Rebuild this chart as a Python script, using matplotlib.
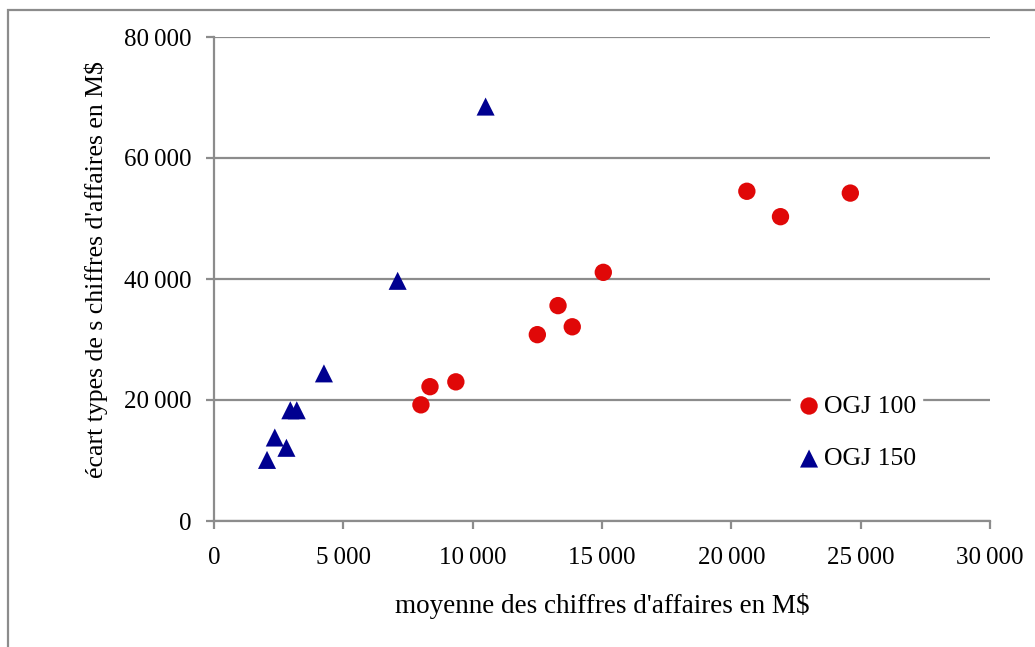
import matplotlib.pyplot as plt
from matplotlib.patches import Rectangle
from matplotlib.ticker import FuncFormatter, MultipleLocator

plt.rcParams["font.family"] = ["Liberation Serif", "DejaVu Serif"]

GRAY = "#8c8c8c"
RED = "#e00808"
NAVY = "#000090"

# OGJ 100
ogj100_x = [8000, 8350, 9350, 12500, 13300, 13850, 15050, 20600, 21900, 24600]
ogj100_y = [19200, 22200, 23000, 30800, 35600, 32100, 41100, 54500, 50300, 54200]

# OGJ 150
ogj150_x = [2050, 2350, 2800, 2950, 3200, 4250, 7100, 10500]
ogj150_y = [10100, 13800, 12100, 18300, 18300, 24400, 39700, 68500]


def thousands(v, pos):
    # narrow space as thousands separator, like the original
    return f"{int(round(v)):,}".replace(",", "\u2009")


fig = plt.figure(figsize=(10.35, 6.47), dpi=100, facecolor="white")

# outer chart frame, cut off on the right and bottom
fig.patches.append(Rectangle((8 / 1035, -0.05), 1.2, 1 - 10 / 647 + 0.05,
                             transform=fig.transFigure, fill=False,
                             edgecolor=GRAY, lw=1.6, zorder=0))

ax = fig.add_axes([214 / 1035, 1 - 521 / 647, 776 / 1035, 484 / 647])
ax.scatter(ogj100_x, ogj100_y, marker="o", s=12.5 ** 2, color=RED,
           edgecolors="none", label="OGJ 100", zorder=3)
ax.scatter(ogj150_x, ogj150_y, marker="^", s=13 ** 2, color=NAVY,
           edgecolors="none", label="OGJ 150", zorder=3)

ax.set_xlim(0, 30000)
ax.set_ylim(0, 80000)
ax.xaxis.set_major_locator(MultipleLocator(5000))
ax.yaxis.set_major_locator(MultipleLocator(20000))
ax.xaxis.set_major_formatter(FuncFormatter(thousands))
ax.yaxis.set_major_formatter(FuncFormatter(thousands))

ax.grid(axis="y", color=GRAY, lw=1.6, zorder=1)
ax.set_axisbelow(True)
for side in ["top", "right"]:
    ax.spines[side].set_visible(False)
for side in ["left", "bottom"]:
    ax.spines[side].set_color(GRAY)
    ax.spines[side].set_linewidth(1.6)
ax.tick_params(axis="both", direction="out", length=6, width=1.6,
               color=GRAY, labelsize=18, labelcolor="black")
ax.tick_params(axis="y", pad=10)
ax.tick_params(axis="x", pad=13)

ax.set_xlabel("moyenne des chiffres d'affaires en M$", fontsize=19.5, labelpad=17)
ax.set_ylabel("écart types de s chiffres d'affaires en M$", fontsize=18.5,
              labelpad=12, y=0.52)

leg = fig.legend(loc="center", bbox_to_anchor=(0.8275, 0.3315),
                 fontsize=18.5, frameon=True, fancybox=False,
                 handletextpad=0.1, handlelength=1.0, labelspacing=1.15,
                 borderpad=0.2, scatterpoints=1)
leg.get_frame().set_facecolor("white")
leg.get_frame().set_edgecolor("white")
leg.get_frame().set_alpha(1)

fig.savefig("out.png", dpi=100, facecolor="white")
